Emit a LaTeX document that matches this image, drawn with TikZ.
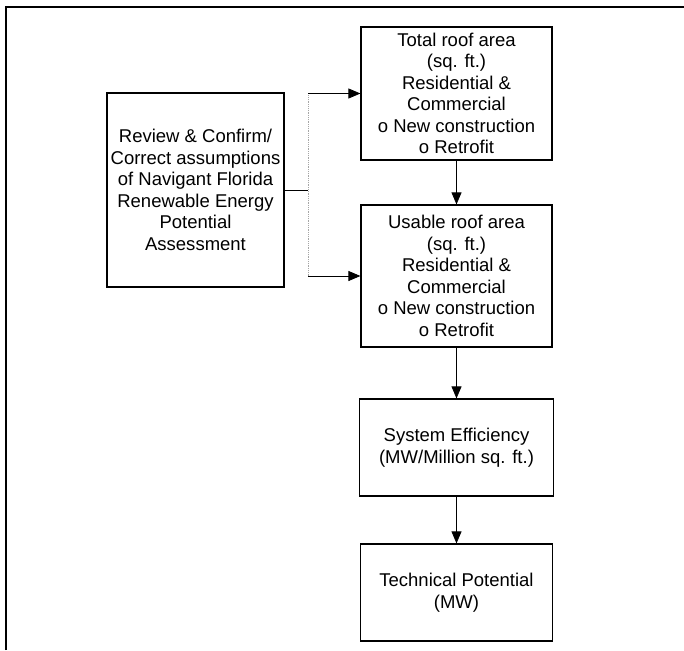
\documentclass[tikz,border=0pt]{standalone}
\usepackage{fontspec}
\setmainfont{Liberation Sans}
\usetikzlibrary{arrows.meta}
\begin{document}
\begin{tikzpicture}[x=1pt,y=-1pt,
  box/.style={draw,line width=1.2pt,rectangle,inner sep=0pt,align=center,
    font=\fontsize{18.5}{21.5}\selectfont},
  flow/.style={line width=0.8pt,-{Triangle[length=12pt,width=10pt]}},
  link/.style={line width=0.8pt,gray!70}]
\useasboundingbox (0,0) rectangle (684,650);
% page frame
\draw[line width=2pt] (6,650) -- (6,7) -- (684,7);

\node[box,minimum width=177pt,minimum height=194pt] (review) at (195.5,190)
  {Review \& Confirm/\\Correct assumptions\\of Navigant Florida\\Renewable Energy\\Potential\\Assessment};
\node[box,minimum width=191pt,minimum height=133pt] (total) at (456.5,93.5)
  {Total roof area\\(sq. ft.)\\Residential \&\\Commercial\\o New construction\\o Retrofit};
\node[box,minimum width=191pt,minimum height=142pt] (usable) at (456.5,276)
  {Usable roof area\\(sq. ft.)\\Residential \&\\Commercial\\o New construction\\o Retrofit};
\node[box,minimum width=194pt,minimum height=97pt] (eff) at (456.5,447.5)
  {System Efficiency\\(MW/Million sq. ft.)};
\node[box,minimum width=192pt,minimum height=97pt] (tech) at (456.5,592.5)
  {Technical Potential\\(MW)};

% split from the review box to both roof-area boxes
\coordinate (split) at (308,190);
\coordinate (splitup) at (308,93.5);
\coordinate (splitdown) at (308,276);
\draw[line width=0.8pt] (review.east) -- (split);
\draw[link,densely dotted] (splitup) -- (splitdown);
\draw[flow] (splitup) -- (total.west);
\draw[flow] (splitdown) -- (usable.west);

% main chain
\draw[flow] (total.south) -- (usable.north);
\draw[flow] (usable.south) -- (eff.north);
\draw[flow] (eff.south) -- (tech.north);
\end{tikzpicture}
\end{document}
